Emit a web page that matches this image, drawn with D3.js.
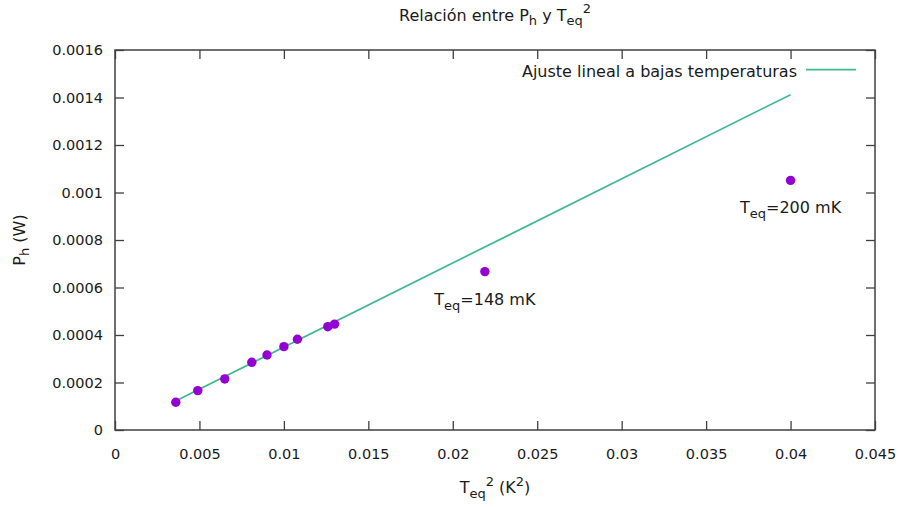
<!DOCTYPE html>
<html>
<head>
<meta charset="utf-8">
<script src="https://cdn.jsdelivr.net/npm/d3@7"></script>
<style>
  html, body { margin: 0; padding: 0; background: #fff; }
  svg { display: block; }
  text { font-family: "DejaVu Sans", sans-serif; fill: #1a1a1a; }
</style>
</head>
<body>
<svg id="chart" width="901" height="507"></svg>
<script>
// Measured heater power vs squared equilibrium temperature
const tempSquared = [0.0036, 0.0049, 0.0065, 0.0081, 0.009, 0.01, 0.0108, 0.0126, 0.013, 0.0219, 0.04];
const heaterPower = [0.000117, 0.000166, 0.000215, 0.000285, 0.000316, 0.000351, 0.000382, 0.000435, 0.000446, 0.000667, 0.001051];

// Linear fit of the low-temperature points
const fitSlope = 0.03542;
const fitIntercept = -0.000005;
const fitRange = [0.0035, 0.04];

// Annotated points
const noteX = [0.0219, 0.04];
const noteY = [0.000667, 0.001051];
const noteText = ["148 mK", "200 mK"];

const xTicks = [0, 0.005, 0.01, 0.015, 0.02, 0.025, 0.03, 0.035, 0.04, 0.045];
const yTicks = [0, 0.0002, 0.0004, 0.0006, 0.0008, 0.001, 0.0012, 0.0014, 0.0016];

const margin = { left: 115, right: 26, top: 50, bottom: 77 };
const W = 901, H = 507;
const svg = d3.select("#chart");

const x = d3.scaleLinear().domain([0, 0.045]).range([margin.left, W - margin.right]);
const y = d3.scaleLinear().domain([0, 0.0016]).range([H - margin.bottom, margin.top]);

const frameColor = "#404040";
const fmt = d => (d === 0 ? "0" : String(+d.toPrecision(6)));
const textSize = "16px";
const subSize = "13px";

// Axes with inward ticks, mirrored on the opposite sides
const tickLen = 9;
svg.append("g")
  .attr("transform", `translate(0,${y(0)})`)
  .call(d3.axisBottom(x).tickValues(xTicks).tickSize(-tickLen).tickPadding(19).tickFormat(fmt))
  .call(g => g.select(".domain").remove());
svg.append("g")
  .attr("transform", `translate(0,${y(0.0016)})`)
  .call(d3.axisTop(x).tickValues(xTicks).tickSize(-tickLen).tickFormat(""))
  .call(g => g.select(".domain").remove());
svg.append("g")
  .attr("transform", `translate(${x(0)},0)`)
  .call(d3.axisLeft(y).tickValues(yTicks).tickSize(-tickLen).tickPadding(12).tickFormat(fmt))
  .call(g => g.select(".domain").remove());
svg.append("g")
  .attr("transform", `translate(${x(0.045)},0)`)
  .call(d3.axisRight(y).tickValues(yTicks).tickSize(-tickLen).tickFormat(""))
  .call(g => g.select(".domain").remove());

svg.selectAll(".tick line").attr("stroke", frameColor).attr("stroke-width", 1.3);
svg.selectAll(".tick text").attr("font-size", "14.5px").attr("fill", "#1a1a1a")
  .attr("font-family", "DejaVu Sans, sans-serif");

// Plot frame
svg.append("rect")
  .attr("x", x(0)).attr("y", y(0.0016))
  .attr("width", x(0.045) - x(0)).attr("height", y(0) - y(0.0016))
  .attr("fill", "none").attr("stroke", frameColor).attr("stroke-width", 1.5);

// Fit line
const fitColor = "#3fb98f";
svg.append("path")
  .datum(fitRange)
  .attr("d", d3.line().x(d => x(d)).y(d => y(fitSlope * d + fitIntercept)))
  .attr("fill", "none").attr("stroke", fitColor).attr("stroke-width", 1.7);

// Data points
svg.append("g").selectAll("circle")
  .data(tempSquared.map((t, i) => [t, heaterPower[i]]))
  .join("circle")
  .attr("cx", d => x(d[0])).attr("cy", d => y(d[1]))
  .attr("r", 4.7).attr("fill", "#9400d3");

// Point annotations: T_eq=... below the point
noteX.forEach((nx, i) => {
  const t = svg.append("text")
    .attr("x", x(nx)).attr("y", y(noteY[i]) + 33)
    .attr("text-anchor", "middle").attr("font-size", textSize);
  t.append("tspan").text("T");
  t.append("tspan").attr("dy", 5).attr("font-size", subSize).text("eq");
  t.append("tspan").attr("dy", -5).text("=" + noteText[i]);
});

// Legend
svg.append("text")
  .attr("x", 797).attr("y", 77).attr("text-anchor", "end").attr("font-size", textSize)
  .text("Ajuste lineal a bajas temperaturas");
svg.append("line")
  .attr("x1", 806).attr("x2", 856).attr("y1", 69.7).attr("y2", 69.7)
  .attr("stroke", fitColor).attr("stroke-width", 1.7);

// Title
const title = svg.append("text")
  .attr("x", (x(0) + x(0.045)) / 2).attr("y", 21)
  .attr("text-anchor", "middle").attr("font-size", textSize);
title.append("tspan").text("Relación entre P");
title.append("tspan").attr("dy", 4).attr("font-size", subSize).text("h");
title.append("tspan").attr("dy", -4).text(" y T");
title.append("tspan").attr("dy", 4).attr("font-size", subSize).text("eq");
title.append("tspan").attr("dy", -12).attr("font-size", subSize).text("2");

// X axis label
const xl = svg.append("text")
  .attr("x", (x(0) + x(0.045)) / 2).attr("y", 493)
  .attr("text-anchor", "middle").attr("font-size", textSize);
xl.append("tspan").text("T");
xl.append("tspan").attr("dy", 5).attr("font-size", subSize).text("eq");
xl.append("tspan").attr("dy", -12).attr("font-size", subSize).text("2");
xl.append("tspan").attr("dy", 7).text(" (K");
xl.append("tspan").attr("dy", -7).attr("font-size", subSize).text("2");
xl.append("tspan").attr("dy", 7).text(")");

// Y axis label
const yl = svg.append("text")
  .attr("transform", `translate(25,${(y(0) + y(0.0016)) / 2}) rotate(-90)`)
  .attr("text-anchor", "middle").attr("font-size", textSize);
yl.append("tspan").text("P");
yl.append("tspan").attr("dy", 4).attr("font-size", subSize).text("h");
yl.append("tspan").attr("dy", -4).text(" (W)");
</script>
</body>
</html>
